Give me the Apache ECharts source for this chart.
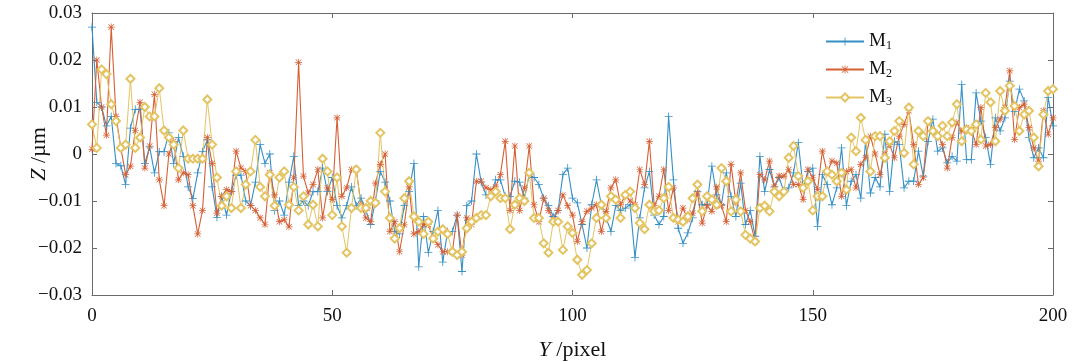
<!DOCTYPE html>
<html>
<head>
<meta charset="utf-8">
<script src="https://cdn.jsdelivr.net/npm/echarts@6/dist/echarts.min.js"></script>
<style>
  html, body { margin: 0; padding: 0; background: #fff; }
  #chart { width: 1076px; height: 361px; }
</style>
</head>
<body>
<div id="chart"></div>
<script>
// Z (µm) per Y pixel
const m1 = [
  0.027, 0.011, 0.010, 0.006, 0.008, -0.002, -0.0025, -0.0065, 0.0055, 0.0095,
  0.0095, -0.002, 0.0015, -0.004, 0.0005, 0.0005, 0.0045, -0.002, 0.0035, -0.0005,
  -0.007, -0.0095, -0.004, 0.0005, 0.003, -0.007, -0.0135, -0.009, -0.013, -0.008,
  -0.0045, -0.0045, -0.010, -0.011, -0.006, 0.002, -0.002, 0.000, -0.012, -0.010,
  -0.013, -0.006, -0.0005, -0.011, -0.010, -0.011, -0.008, -0.008, -0.003, -0.008,
  -0.005, -0.011, -0.0136, -0.011, -0.007, -0.011, -0.0094, -0.012, -0.015, -0.010,
  -0.0037, -0.006, -0.010, -0.0165, -0.017, -0.011, -0.008, -0.002, -0.024, -0.0133,
  -0.021, -0.0165, -0.012, -0.023, -0.0165, -0.0165, -0.013, -0.025, -0.011, -0.010,
  0.000, -0.006, -0.0087, -0.009, -0.0055, -0.0055, -0.009, -0.009, -0.0058, -0.006,
  -0.0094, -0.0044, -0.005, -0.0065, -0.0094, -0.011, -0.0133, -0.012, -0.0044, -0.003,
  -0.0094, -0.0104, -0.015, -0.020, -0.0108, -0.0055, -0.0108, -0.0136, -0.0165, -0.011,
  -0.012, -0.0115, -0.0108, -0.022, -0.0136, -0.0072, -0.0037, -0.013, -0.015, -0.0133,
  0.008, -0.0055, -0.0158, -0.019, -0.0168, -0.0136, -0.008, -0.0108, -0.0108, -0.0026,
  -0.0087, -0.0108, -0.004, -0.009, -0.0133, -0.0062, -0.015, -0.012, -0.0175, -0.0005,
  -0.008, -0.0033, -0.007, -0.005, -0.008, -0.0072, -0.004, 0.0024, -0.0072, -0.0037,
  -0.003, -0.0154, -0.0044, -0.0065, -0.0108, -0.0072, 0.0013, -0.011, -0.0058, -0.0044,
  -0.0094, 0.0027, -0.0083, -0.005, -0.007, 0.0042, -0.008, 0.0027, 0.002, -0.0072,
  -0.0058, -0.0058, 0.0006, -0.0047, 0.0027, 0.0074, 0.0006, 0.0013, -0.0019, -0.0005,
  -0.0015, 0.0148, -0.0012, -0.0012, 0.013, 0.007, 0.0035, -0.0022, 0.0077, 0.0049,
  0.0077, 0.0155, 0.009, 0.0138, 0.0113, 0.0035, -0.0008, 0.0013, -0.0008, 0.012,
  0.006
]
const m2 = [
  0.001, 0.020, 0.010, 0.004, 0.027, 0.008, 0.0013, -0.0044, -0.0026, 0.005,
  0.011, -0.003, 0.0017, 0.0127, -0.0055, -0.011, 0.000, 0.0027, -0.0055, -0.004,
  -0.0044, -0.011, -0.017, -0.012, 0.0035, -0.002, -0.0126, -0.009, -0.0076, -0.008,
  0.0006, -0.003, -0.0037, -0.011, -0.012, -0.0136, -0.015, -0.004, -0.0087, -0.0144,
  -0.014, -0.0155, -0.005, 0.0195, -0.0047, -0.0083, -0.0065, -0.0033, -0.0136, -0.0072,
  -0.0097, 0.0077, -0.009, -0.0072, -0.0033, -0.0033, -0.0108, -0.0136, -0.0144, -0.0062,
  -0.0022, 0.000, -0.0165, -0.0144, -0.0208, -0.015, -0.007, -0.017, -0.0165, -0.015,
  -0.015, -0.018, -0.0193, -0.0208, -0.0208, -0.0208, -0.013, -0.0215, -0.0136, -0.015,
  -0.0058, -0.0058, -0.0072, -0.0076, -0.007, -0.0044, 0.0027, -0.012, 0.0017, -0.012,
  -0.0072, 0.0017, -0.0108, -0.0144, -0.0094, -0.012, -0.014, -0.012, -0.0087, -0.011,
  -0.013, -0.0186, -0.0144, -0.0122, -0.0115, -0.0108, -0.0165, -0.0122, -0.0072, -0.0055,
  -0.0108, -0.0087, -0.010, -0.0108, -0.0033, -0.0065, 0.0027, -0.011, -0.009, -0.0033,
  -0.012, -0.0072, -0.0144, -0.0115, -0.014, -0.0126, -0.0083, -0.0147, -0.011, -0.0122,
  -0.007, -0.011, -0.0144, -0.0022, -0.0104, -0.004, -0.012, -0.0144, -0.0186, -0.0044,
  -0.0055, -0.0015, -0.007, -0.0047, -0.0047, -0.0033, -0.0065, -0.0065, -0.0097, -0.0033,
  -0.005, -0.0076, 0.0006, -0.004, -0.0015, -0.0019, -0.009, -0.0037, -0.0033, -0.0072,
  -0.0022, -0.0008, 0.0038, 0.000, -0.0044, 0.000, 0.002, -0.0008, 0.0038, 0.0063,
  0.0092, 0.002, -0.0065, -0.005, 0.007, 0.0049, 0.0042, 0.002, -0.003, 0.0035,
  0.0067, 0.0049, 0.0056, 0.0052, 0.002, 0.0099, 0.0017, 0.002, 0.0056, 0.0074,
  0.0099, 0.0177, 0.0031, 0.0099, 0.0106, 0.0056, 0.0013, -0.0015, 0.0092, 0.0042,
  0.0077
]
const m3 = [
  0.0063, 0.0013, 0.018, 0.017, 0.0106, 0.007, 0.0013, 0.002, 0.016, 0.0013,
  0.0035, 0.010, 0.008, 0.008, 0.014, 0.005, 0.0035, 0.002, -0.003, 0.005,
  -0.001, -0.001, -0.001, -0.001, 0.0116, 0.002, -0.005, -0.011, -0.009, -0.0115,
  -0.0037, -0.0115, -0.0065, -0.0037, 0.003, -0.007, -0.009, -0.0044, -0.011, -0.005,
  -0.0037, -0.0108, -0.007, -0.012, -0.009, -0.015, -0.0108, -0.0154, -0.001, -0.0037,
  -0.013, -0.005, -0.0154, -0.021, -0.0115, -0.0033, -0.0115, -0.0115, -0.010, -0.0104,
  0.0045, -0.008, -0.0136, -0.018, -0.0158, -0.0094, -0.0058, -0.0133, -0.0144, -0.017,
  -0.0144, -0.018, -0.0165, -0.016, -0.017, -0.0208, -0.0215, -0.0208, -0.0158, -0.0144,
  -0.0136, -0.013, -0.013, -0.009, -0.008, -0.0094, -0.0094, -0.016, -0.0108, -0.0094,
  -0.010, -0.004, -0.0136, -0.0136, -0.019, -0.021, -0.0144, -0.0144, -0.0204, -0.0154,
  -0.0168, -0.0225, -0.0257, -0.0247, -0.019, -0.0136, -0.0108, -0.0136, -0.009, -0.0097,
  -0.0136, -0.0087, -0.008, -0.0115, -0.0147, -0.016, -0.0108, -0.0122, -0.012, -0.0094,
  -0.007, -0.0136, -0.014, -0.0144, -0.0133, -0.0094, -0.0065, -0.0122, -0.009, -0.0097,
  -0.0108, -0.003, -0.0058, -0.0122, -0.0097, -0.0122, -0.0172, -0.018, -0.0186, -0.0115,
  -0.011, -0.0122, -0.008, -0.009, -0.008, -0.0008, 0.0017, -0.0047, -0.0072, -0.0058,
  -0.012, -0.009, -0.009, -0.0037, -0.0044, -0.0058, -0.004, -0.0076, 0.0035, 0.0006,
  0.0077, 0.003, -0.0037, 0.0038, 0.0038, -0.0008, 0.0027, 0.0049, 0.007, 0.0002,
  0.0099, -0.0022, 0.0049, 0.0038, 0.007, 0.0049, 0.0038, 0.006, 0.0038, 0.0067,
  0.0106, 0.0027, 0.0052, 0.0049, 0.0063, 0.0031, 0.013, 0.011, 0.0027, 0.0134,
  0.0092, 0.0145, 0.0102, 0.0049, 0.0084, 0.0092, 0.0035, -0.0026, 0.0084, 0.0134,
  0.0138
]
const xTicks = [0, 50, 100, 150, 200]
const yTicks = [-0.03, -0.02, -0.01, 0, 0.01, 0.02, 0.03]
const seriesNames = ['M1', 'M2', 'M3']

const serif = 'Liberation Serif'
const axisColor = '#6a6a6a'
const blue = '#3590c6'
const red = '#d65f34'
const yellow = '#e4c462'

// 标记符号
const plusPath = 'path://M4.5,0h1v4.5h4.5v1h-4.5v4.5h-1v-4.5h-4.5v-1h4.5z'
const starPath = 'path://M4.5,0h1v10h-1z M0,4.5h10v1h-10z M0.7,1.4L1.4,0.7L9.3,8.6L8.6,9.3z M8.6,0.7L9.3,1.4L1.4,9.3L0.7,8.6z'

function pairs (arr) {
    return arr.map((v, i) => [i, v])
}

const chart = echarts.init(document.getElementById('chart'))

const boxAxis = {
    axisLine: { show: true, onZero: false, lineStyle: { color: axisColor, width: 1 } },
    axisTick: { show: true, inside: true, length: 5, lineStyle: { color: axisColor } },
    axisLabel: { show: false },
    splitLine: { show: false }
}

chart.setOption({
    animation: false,
    backgroundColor: '#fff',
    grid: { left: 92, right: 23, top: 13, bottom: 66, outerBoundsMode: 'none' },
    legend: {
        orient: 'vertical',
        left: 820,
        top: 27,
        itemWidth: 38,
        itemHeight: 10,
        itemGap: 8,
        data: seriesNames,
        formatter: function (name) {
            return '{m|M}{s|' + name.slice(1) + '}'
        },
        textStyle: {
            rich: {
                m: { fontFamily: serif, fontSize: 19, color: '#111' },
                s: { fontFamily: serif, fontSize: 12, color: '#111', padding: [9, 0, 0, 0] }
            }
        }
    },
    xAxis: [
        {
            type: 'value',
            min: 0,
            max: 200,
            interval: 50,
            name: '{i|Y} /pixel',
            nameLocation: 'middle',
            nameGap: 44,
            nameMoveOverlap: false,
            nameTextStyle: {
                fontFamily: serif, fontSize: 22, color: '#111',
                rich: { i: { fontFamily: serif, fontStyle: 'italic', fontSize: 22, color: '#111' } }
            },
            axisLine: { show: true, onZero: false, lineStyle: { color: axisColor, width: 1 } },
            axisTick: { show: true, inside: true, length: 5, lineStyle: { color: axisColor } },
            axisLabel: {
                margin: 12,
                fontFamily: serif,
                fontSize: 19,
                color: '#111',
                customValues: xTicks
            },
            splitLine: { show: false }
        },
        Object.assign({ type: 'value', position: 'top', min: 0, max: 200, interval: 50 }, boxAxis)
    ],
    yAxis: [
        {
            type: 'value',
            min: -0.03,
            max: 0.03,
            interval: 0.01,
            name: '{i|Z} /µm',
            nameLocation: 'middle',
            nameGap: 42,
            nameRotate: 90,
            nameMoveOverlap: false,
            nameTextStyle: {
                fontFamily: serif, fontSize: 22, color: '#111',
                rich: { i: { fontFamily: serif, fontStyle: 'italic', fontSize: 22, color: '#111' } }
            },
            axisLine: { show: true, onZero: false, lineStyle: { color: axisColor, width: 1 } },
            axisTick: { show: true, inside: true, length: 5, lineStyle: { color: axisColor } },
            axisLabel: {
                margin: 10,
                fontFamily: serif,
                fontSize: 19,
                color: '#111',
                formatter: function (v) {
                    const t = yTicks.find(k => Math.abs(k - v) < 1e-9)
                    if (t === undefined) return ''
                    if (t === 0) return '0'
                    return (t < 0 ? '\u22120' : '0') + Math.abs(t).toFixed(2).slice(1)
                }
            },
            splitLine: { show: false }
        },
        Object.assign({ type: 'value', position: 'right', min: -0.03, max: 0.03, interval: 0.01 }, boxAxis)
    ],
    series: [
        {
            name: 'M1',
            type: 'line',
            data: pairs(m1),
            symbol: plusPath,
            symbolSize: 8,
            showAllSymbol: true,
            lineStyle: { width: 1.1, color: blue },
            itemStyle: { color: blue }
        },
        {
            name: 'M2',
            type: 'line',
            data: pairs(m2),
            symbol: starPath,
            symbolSize: 7,
            showAllSymbol: true,
            lineStyle: { width: 1.1, color: red },
            itemStyle: { color: red }
        },
        {
            name: 'M3',
            type: 'line',
            data: pairs(m3),
            symbol: 'emptyDiamond',
            symbolSize: 8,
            showAllSymbol: true,
            lineStyle: { width: 1, color: yellow },
            itemStyle: { color: yellow, borderColor: yellow, borderWidth: 1 }
        }
    ]
})

window.addEventListener('resize', function () {
    chart.resize()
})
</script>
</body>
</html>
